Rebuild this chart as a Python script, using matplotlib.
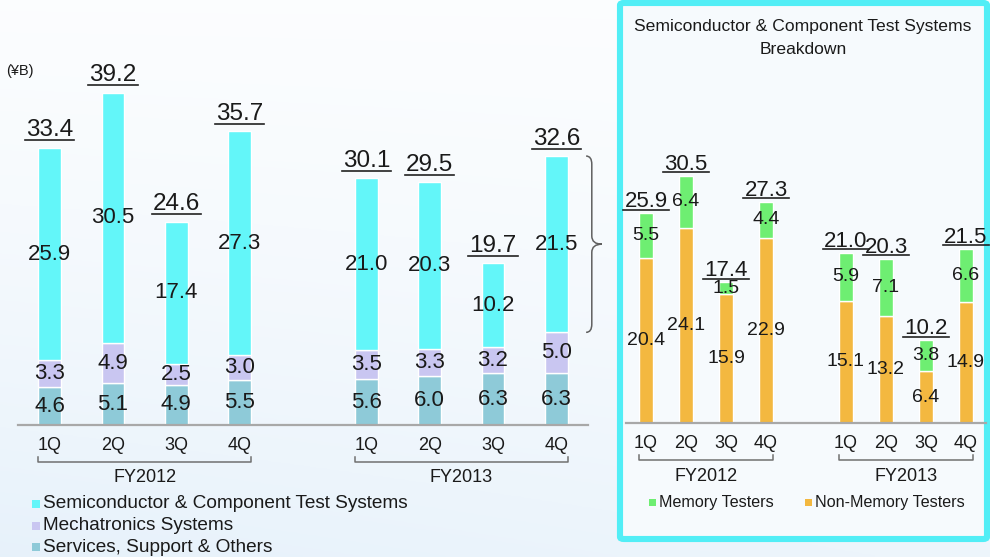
import numpy as np
import matplotlib
matplotlib.use('Agg')
import matplotlib.pyplot as plt
from matplotlib.patches import Rectangle, FancyBboxPatch, PathPatch
from matplotlib.path import Path
from matplotlib.lines import Line2D
import matplotlib.transforms as mtransforms

plt.rcParams['font.family'] = ['Liberation Sans', 'DejaVu Sans']

# ---------------- data ----------------
quarters = ['1Q', '2Q', '3Q', '4Q']
years = ['FY2012', 'FY2013']
services = [4.6, 5.1, 4.9, 5.5, 5.6, 6.0, 6.3, 6.3]
mechatronics = [3.3, 4.9, 2.5, 3.0, 3.5, 3.3, 3.2, 5.0]
semiconductor = [25.9, 30.5, 17.4, 27.3, 21.0, 20.3, 10.2, 21.5]
totals = [33.4, 39.2, 24.6, 35.7, 30.1, 29.5, 19.7, 32.6]
non_memory = [20.4, 24.1, 15.9, 22.9, 15.1, 13.2, 6.4, 14.9]
memory = [5.5, 6.4, 1.5, 4.4, 5.9, 7.1, 3.8, 6.6]
semi_totals = [25.9, 30.5, 17.4, 27.3, 21.0, 20.3, 10.2, 21.5]
main_series = ['Semiconductor & Component Test Systems', 'Mechatronics Systems',
               'Services, Support & Others']
sub_series = ['Memory Testers', 'Non-Memory Testers']

C_SEMI = '#63f6f9'
C_MECH = '#c9c6f1'
C_SERV = '#8ecad8'
C_MEM = '#6eee72'
C_NONMEM = '#f3b840'
TXT = '#1a1a1a'

W, H = 990, 557
fig = plt.figure(figsize=(9.9, 5.57), dpi=100)

# ---------------- background ----------------
bg = fig.add_axes([0, 0, 1, 1], zorder=-10)
yy, xx = np.mgrid[0:1:200j, 0:1:300j]
tint = 0.12 * yy ** 1.5 + 0.06 * (1 - xx) * yy + 0.03
top = np.array([1.0, 1.0, 1.0])
blue = np.array([0.55, 0.75, 0.92])
img = top[None, None, :] * (1 - tint[..., None]) + blue[None, None, :] * tint[..., None]
bg.imshow(img, extent=[0, 1, 0, 1], aspect='auto', origin='upper')
bg.set_xlim(0, 1)
bg.set_ylim(0, 1)
bg.axis('off')

def fx(px):
    return px / W

def fy(py):
    return 1 - py / H

# right panel box
box = FancyBboxPatch((fx(620), fy(539)), fx(987) - fx(620), fy(3) - fy(539),
                     boxstyle='round,pad=0,rounding_size=0.004',
                     transform=fig.transFigure, facecolor='#f6fafd',
                     edgecolor='#52eef6', linewidth=4.4, zorder=-5)
fig.patches.append(box)

pos = np.array([0, 1, 2, 3, 5, 6, 7, 8])

underlines = []

def total_label(ax, x, top_v, text, fs, base_pt, line_pt):
    tr = mtransforms.offset_copy(ax.transData, fig=fig, x=0, y=base_pt, units='points')
    t = ax.text(x, top_v, text, transform=tr, ha='center', va='baseline',
                fontsize=fs, color=TXT, clip_on=False)
    underlines.append((ax, x, top_v, t, line_pt))

def style_axes(ax):
    for s in ['top', 'right', 'left']:
        ax.spines[s].set_visible(False)
    ax.spines['bottom'].set_color('#a8a8a8')
    ax.spines['bottom'].set_linewidth(1.6)
    ax.set_yticks([])
    ax.set_facecolor('none')
    ax.set_xlim(-0.5, 8.5)
    ax.set_ylim(0, 45)

def brackets(ax, w, yb, ytick, ylab, fs):
    tr = ax.get_xaxis_transform()
    for g in range(2):
        p = pos[g * 4:(g + 1) * 4]
        x0, x1 = p[0] - w / 2, p[-1] + w / 2
        ax.plot([x0, x0, x1, x1], [ytick, yb, yb, ytick], transform=tr,
                color='#707070', lw=1.1, clip_on=False)
        ax.text((p[0] + p[-1]) / 2, ylab, years[g], transform=tr, ha='center',
                va='center', fontsize=fs, color=TXT)

# ---------------- left chart ----------------
ax1 = fig.add_axes([fx(18), fy(425), fx(588) - fx(18), (425 - 56) / H])
style_axes(ax1)
bw1 = 0.36
serv = np.array(services)
mech = np.array(mechatronics)
semi = np.array(semiconductor)
ax1.bar(pos, serv, bw1, color=C_SERV, edgecolor='white', linewidth=1)
ax1.bar(pos, mech, bw1, bottom=serv, color=C_MECH, edgecolor='white', linewidth=1)
ax1.bar(pos, semi, bw1, bottom=serv + mech, color=C_SEMI, edgecolor='white', linewidth=1)
for i, x in enumerate(pos):
    ax1.text(x, serv[i] / 2, f'{services[i]:.1f}', ha='center', va='center', fontsize=16, color=TXT)
    ax1.text(x, serv[i] + mech[i] / 2, f'{mechatronics[i]:.1f}', ha='center', va='center', fontsize=16, color=TXT)
    ax1.text(x, serv[i] + mech[i] + semi[i] / 2, f'{semiconductor[i]:.1f}', ha='center', va='center', fontsize=16, color=TXT)
    total_label(ax1, x, serv[i] + mech[i] + semi[i], f'{totals[i]:.1f}', 17.5, 8.3, 5.4)
ax1.set_xticks(pos, quarters * 2)
ax1.tick_params(axis='x', length=0, pad=9, labelsize=13, labelcolor=TXT)
brackets(ax1, bw1, -0.100, -0.086, -0.141, 13)

# curly brace next to last bar
i = 7
ybot = serv[i] + mech[i]
ytop = serv[i] + mech[i] + semi[i]
ymid = (ybot + ytop) / 2
x0, xs, xt = 8.47, 8.56, 8.72
r = 1.0
verts = [(x0, ytop), (xs, ytop), (xs, ytop - r),
         (xs, ymid + r),
         (xs, ymid), (xt, ymid),
         (xs, ymid), (xs, ymid - r),
         (xs, ybot + r),
         (xs, ybot), (x0, ybot)]
codes = [Path.MOVETO, Path.CURVE3, Path.CURVE3,
         Path.LINETO,
         Path.CURVE3, Path.CURVE3,
         Path.CURVE3, Path.CURVE3,
         Path.LINETO,
         Path.CURVE3, Path.CURVE3]
ax1.add_patch(PathPatch(Path(verts, codes), facecolor='none', edgecolor='#606060',
                        lw=1.1, clip_on=False))

fig.text(fx(6), fy(71), '(¥B)', fontsize=10.5, color=TXT, va='center', ha='left')

# left legend
leg_cols = [C_SEMI, C_MECH, C_SERV]
for k, (lab, col) in enumerate(zip(main_series, leg_cols)):
    yc = 504 + k * 21.5
    fig.patches.append(Rectangle((fx(32), fy(yc + 4)), fx(8), 8 / H, transform=fig.transFigure,
                                 facecolor=col, edgecolor='none'))
    fig.text(fx(43), fy(yc), lab, fontsize=13.7, color=TXT, va='center', ha='left')

# ---------------- right chart ----------------
ax2 = fig.add_axes([fx(626), fy(423), fx(986) - fx(626), (423 - 58.5) / H])
style_axes(ax2)
bw2 = 0.35
nm = np.array(non_memory)
mm = np.array(memory)
ax2.bar(pos, nm, bw2, color=C_NONMEM, edgecolor='white', linewidth=1)
ax2.bar(pos, mm, bw2, bottom=nm, color=C_MEM, edgecolor='white', linewidth=1)
for i, x in enumerate(pos):
    ax2.text(x, nm[i] / 2, f'{non_memory[i]:.1f}', ha='center', va='center', fontsize=14, color=TXT)
    ax2.text(x, nm[i] + mm[i] / 2, f'{memory[i]:.1f}', ha='center', va='center', fontsize=14, color=TXT)
    total_label(ax2, x, nm[i] + mm[i], f'{semi_totals[i]:.1f}', 16, 4.3, 2.5)
ax2.set_xticks(pos, quarters * 2)
ax2.tick_params(axis='x', length=0, pad=9, labelsize=13, labelcolor=TXT)
brackets(ax2, bw2, -0.1015, -0.088, -0.148, 13)

fig.text(fx(803), fy(27), 'Semiconductor & Component Test Systems', fontsize=12.6,
         color=TXT, ha='center', va='center')
fig.text(fx(803), fy(50), 'Breakdown', fontsize=12.6, color=TXT, ha='center', va='center')

for lab, col, sx in zip(sub_series, [C_MEM, C_NONMEM], [649, 805]):
    yc = 502
    fig.patches.append(Rectangle((fx(sx), fy(yc + 3.5)), fx(7), 7 / H, transform=fig.transFigure,
                                 facecolor=col, edgecolor='none'))
    fig.text(fx(sx + 10), fy(yc), lab, fontsize=11.6, color=TXT, va='center', ha='left')

# ---------------- underlines for totals ----------------
fig.canvas.draw()
renderer = fig.canvas.get_renderer()
inv = fig.transFigure.inverted()
for ax, x, top_v, t, line_pt in underlines:
    bb = t.get_window_extent(renderer)
    ydisp = ax.transData.transform((x, top_v))[1] + line_pt * fig.dpi / 72
    (ax0, ay0) = inv.transform((bb.x0 - 1, ydisp))
    (ax1_, ay1) = inv.transform((bb.x1 + 1, ydisp))
    fig.add_artist(Line2D([ax0, ax1_], [ay0, ay1], transform=fig.transFigure,
                          color='#222222', lw=1.2))

fig.savefig('out.png', dpi=100)
